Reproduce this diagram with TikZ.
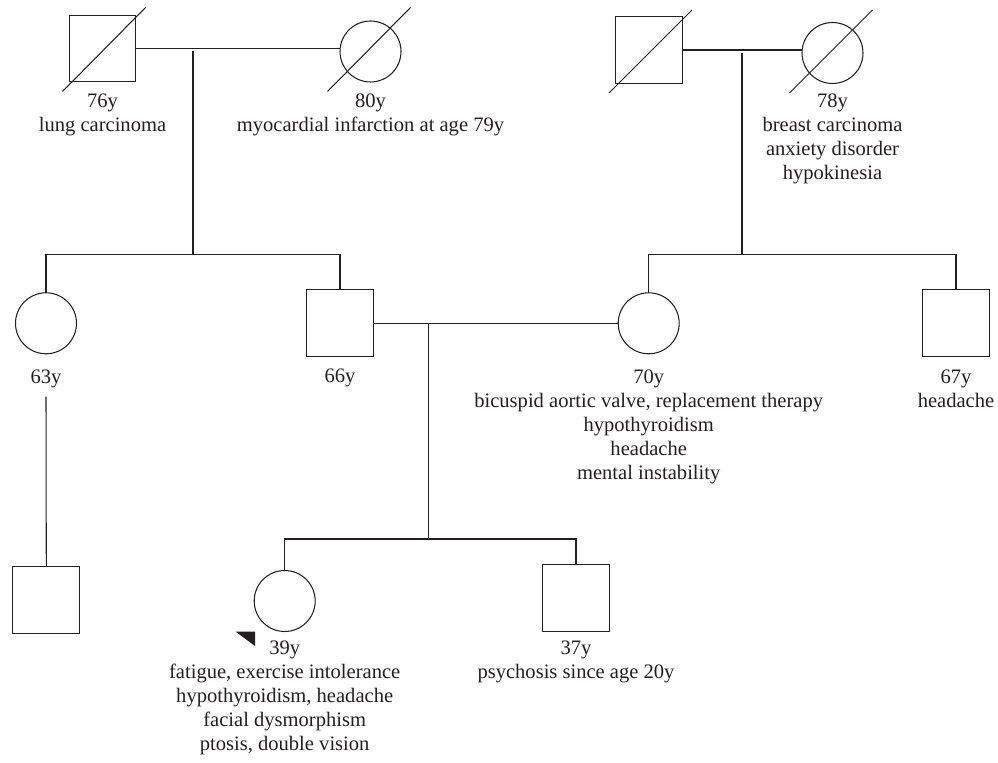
\documentclass[tikz,border=0pt]{standalone}
\usepackage{fontspec}
\setmainfont{Liberation Serif}
\definecolor{ink}{HTML}{231F20}
\begin{document}
\begin{tikzpicture}[x=0.02cm,y=-0.02cm,
  every node/.style={inner sep=0pt, outer sep=0pt},
  pline/.style={draw=ink, line width=0.6pt},
  male/.style={draw=ink, line width=0.6pt, rectangle, minimum size=1.334cm},
  female/.style={draw=ink, line width=0.6pt, circle, minimum size=1.22cm},
  lbl/.style={anchor=north, align=center, text=ink, font=\fontsize{11.7}{13.7}\selectfont},
  deadslash/.style={draw=ink, line width=0.6pt}
]
\useasboundingbox (0,0) rectangle (998,763);
% Generation I
\node[male] (I1) at (102.5,48.5) {};
\node[female] (I2) at (370.5,51.5) {};
\node[male] (I3) at (649,50) {};
\node[female] (I4) at (832.5,53) {};
\draw[deadslash] (I1.center) ++(-40,43) -- ++(83,-84);
\draw[deadslash] (I2.center) ++(-43,40) -- ++(83,-84);
\draw[deadslash] (I3.center) ++(-40,43) -- ++(83,-83);
\draw[deadslash] (I4.center) ++(-43,40) -- ++(83,-83);
\node[lbl] (L1) at (102.5,94) {76y\\lung carcinoma};
\node[lbl] (L2) at (370.5,94) {80y\\myocardial infarction at age 79y};
\node[lbl] (L4) at (832.5,94) {78y\\breast carcinoma\\anxiety disorder\\hypokinesia};
\coordinate (m1) at (193,48.5);
\coordinate (m2) at (742,50.5);
\draw[pline] (I1.east) -- (I1.east -| I2.west);
\draw[pline] (I3.east) -- (I3.east -| I4.west);
% Generation II
\node[female] (II1) at (46,323.3) {};
\node[male] (II2) at (340,323.3) {};
\node[female] (II3) at (648.7,323.3) {};
\node[male] (II4) at (956,323.3) {};
\coordinate (s1) at (193,254.7);
\coordinate (s2) at (742,254.7);
\draw[pline] ([yshift=-3*0.02cm]m1) -- (s1);
\draw[pline] ([yshift=-3*0.02cm]m2) -- (s2);
\draw[pline] (II1.north) |- (s1) -| (II2.north);
\draw[pline] (II3.north) |- (s2) -| (II4.north);
\draw[pline] (II2.east) -- (II3.west);
\node[lbl] (L5) at (46,370) {63y};
\node[lbl] (L6) at (340,369) {66y};
\node[lbl] (L7) at (648.7,370) {70y\\bicuspid aortic valve, replacement therapy\\hypothyroidism\\headache\\mental instability};
\node[lbl] (L8) at (956,370) {67y\\headache};
% Generation III
\node[male] (III1) at (46.3,600.3) {};
\node[female] (III2) at (284.7,601) {};
\node[male] (III3) at (576,598) {};
\coordinate (m3) at (428.3,323.3);
\coordinate (s3) at (428.3,539);
\coordinate (t5) at (46,396.7);
\draw[pline] (t5) -- (III1.north);
\draw[pline] (m3) -- (s3);
\draw[pline] (III2.north) |- (s3) -| (III3.north);
\fill[ink] (235.7,631.7) -- (255,631.7) -- (255,646) -- cycle;
\node[lbl] (L9) at (284.7,641) {39y\\fatigue, exercise intolerance\\hypothyroidism, headache\\facial dysmorphism\\ptosis, double vision};
\node[lbl] (L10) at (576,641) {37y\\psychosis since age 20y};
\end{tikzpicture}
\end{document}
